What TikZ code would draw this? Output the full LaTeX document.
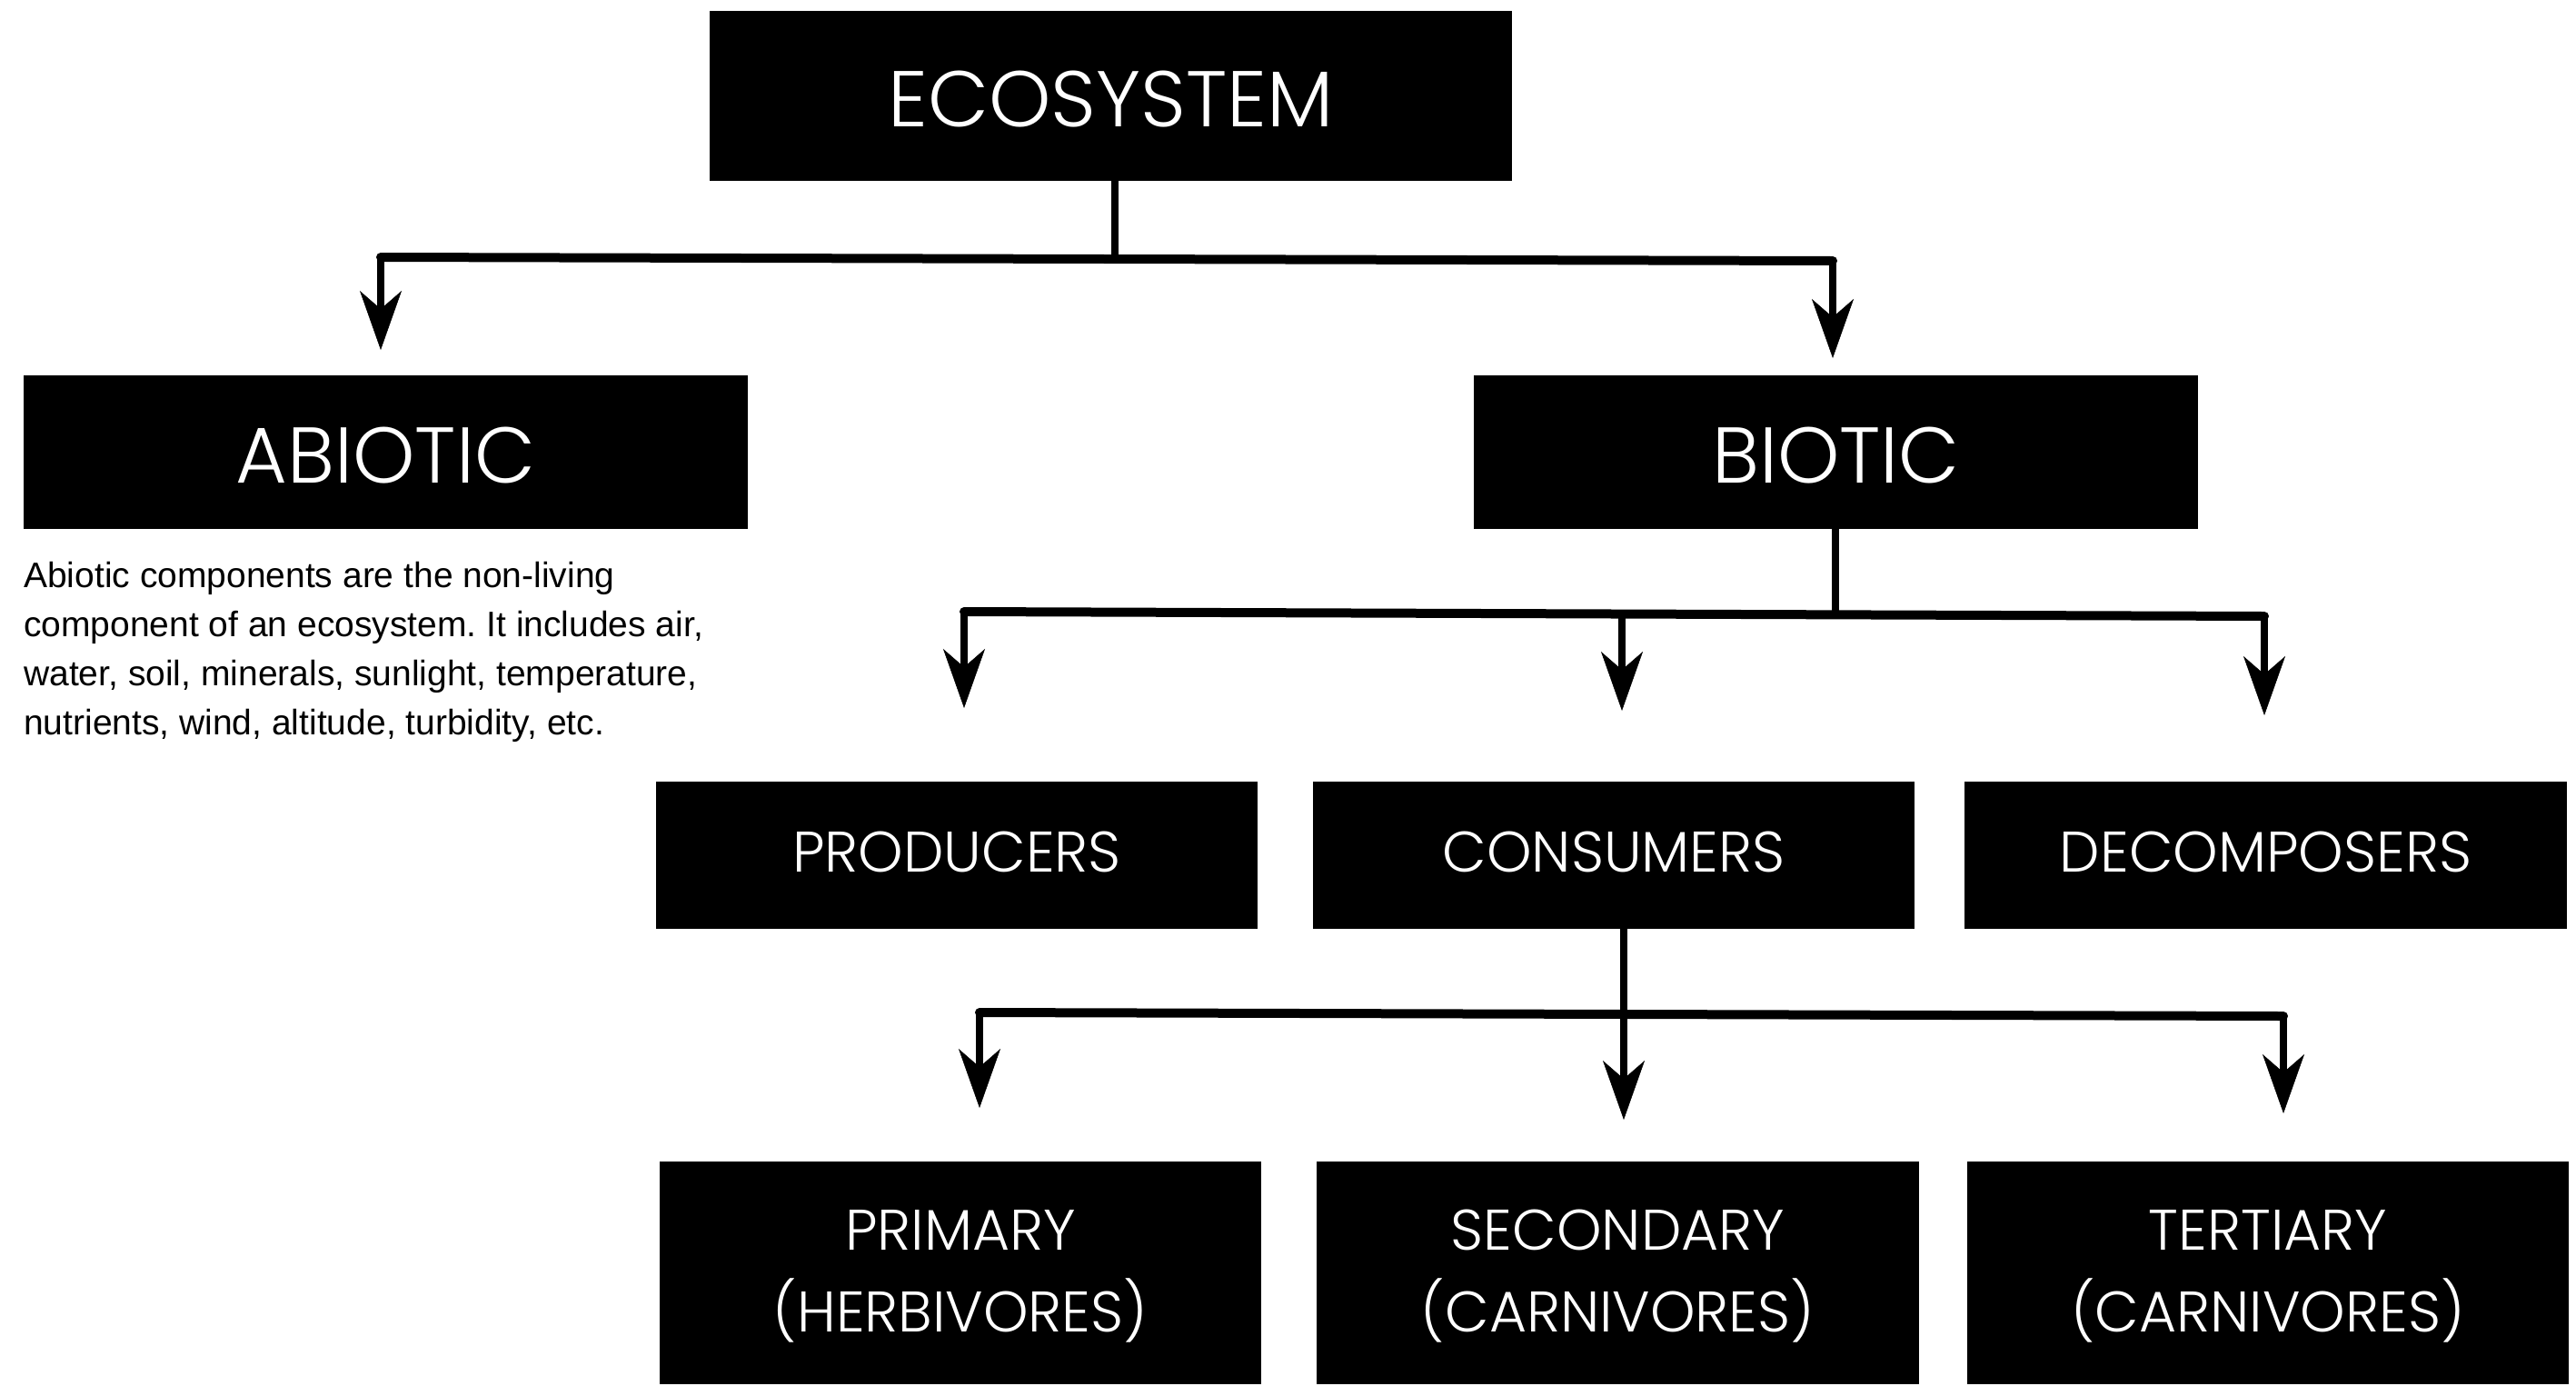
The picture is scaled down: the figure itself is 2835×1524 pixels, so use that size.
\documentclass[tikz,border=0pt]{standalone}
\usepackage{fontspec}
\setmainfont{Poppins}[UprightFont=* Light]
\newfontfamily\bodyfont{Liberation Sans}
\usetikzlibrary{arrows.meta}
\newcommand\mvtxt[2]{\raisebox{#1}[\height][\depth]{#2}}
\frenchspacing
\tikzset{
  box/.style={fill=black, text=white, inner sep=0pt, align=center},
  bigbox/.style={box, font=\fontsize{87}{100}\selectfont},
  smallbox/.style={box, font=\fontsize{63}{90}\selectfont},
  hbar/.style={line width=10pt, line cap=round},
  stem/.style={line width=8.5pt},
  arr/.style={line width=8.5pt, line cap=round, -{Stealth[length=65pt, width=46pt, inset=20pt, line width=0.5pt]}},
  para/.style={anchor=base west, inner sep=0pt, font=\bodyfont\fontsize{39}{54}\selectfont}
}
\begin{document}
\begin{tikzpicture}[x=1pt, y=-1pt]
\fill[white] (0,0) rectangle (2835,1524);
\useasboundingbox (0,0) rectangle (2835,1524);

% boxes
\node[bigbox, minimum width=883pt, minimum height=187pt] (eco) at (1222.5,105.5) {\mvtxt{-3.5pt}{ECOSYSTEM}};
\node[bigbox, minimum width=797pt, minimum height=169pt] (abiotic) at (424.5,497.5) {\mvtxt{-3.5pt}{ABIOTIC}};
\node[bigbox, minimum width=797pt, minimum height=169pt] (biotic) at (2020.5,497.5) {\mvtxt{-3.5pt}{BIOTIC}};
\node[smallbox, minimum width=662pt, minimum height=162pt] (prod) at (1053,941) {\mvtxt{3.5pt}{PRODUCERS}};
\node[smallbox, minimum width=662pt, minimum height=162pt] (cons) at (1776,941) {\mvtxt{3.5pt}{CONSUMERS}};
\node[smallbox, minimum width=663pt, minimum height=162pt] (deco) at (2493.5,941) {\mvtxt{3.5pt}{DECOMPOSERS}};
\node[smallbox, minimum width=662pt, minimum height=245pt] (prim) at (1057,1400.5) {\mvtxt{-3.5pt}{PRIMARY}\\\mvtxt{-3.5pt}{(HERBIVORES)}};
\node[smallbox, minimum width=663pt, minimum height=245pt] (seco) at (1780.5,1400.5) {\mvtxt{-3.5pt}{SECONDARY}\\\mvtxt{-3.5pt}{(CARNIVORES)}};
\node[smallbox, minimum width=662pt, minimum height=245pt] (tert) at (2496,1400.5) {\mvtxt{-3.5pt}{TERTIARY}\\\mvtxt{-3.5pt}{(CARNIVORES)}};

% paragraph
\node[para] (p1) at (26,646) {Abiotic components are the non-living};
\node[para] (p2) at (26,700) {component of an ecosystem. It includes air,};
\node[para] (p3) at (26,754) {water, soil, minerals, sunlight, temperature,};
\node[para] (p4) at (26,808) {nutrients, wind, altitude, turbidity, etc.};

% level 1 connectors
\coordinate (t0) at (1227,285);
\coordinate (tL) at (419,283);
\coordinate (tR) at (2017,287);
\coordinate (aA) at (419,385);
\coordinate (aB) at (2017,394);
\draw[stem] (eco.south -| t0) -- (t0);
\draw[hbar] (tL) -- (tR);
\draw[arr] (tL) -- (aA);
\draw[arr] (tR) -- (aB);

% level 2 connectors
\coordinate (m0) at (2020,676);
\coordinate (mL) at (1061,673);
\coordinate (mM) at (1785,676);
\coordinate (mR) at (2492,678);
\coordinate (bA) at (1061,779);
\coordinate (bB) at (1785,782);
\coordinate (bC) at (2492,787);
\draw[stem] (biotic.south -| m0) -- (m0);
\draw[hbar] (mL) -- (mR);
\draw[arr] (mL) -- (bA);
\draw[arr] (mM) -- (bB);
\draw[arr] (mR) -- (bC);

% level 3 connectors
\coordinate (c0) at (1787,1116);
\coordinate (cL) at (1078,1114);
\coordinate (cR) at (2513,1118);
\coordinate (dA) at (1078,1219);
\coordinate (dB) at (1787,1232);
\coordinate (dC) at (2513,1225);
\draw[hbar] (cL) -- (cR);
\draw[arr] (cons.south -| c0) -- (dB);
\draw[arr] (cL) -- (dA);
\draw[arr] (cR) -- (dC);
\end{tikzpicture}
\end{document}
